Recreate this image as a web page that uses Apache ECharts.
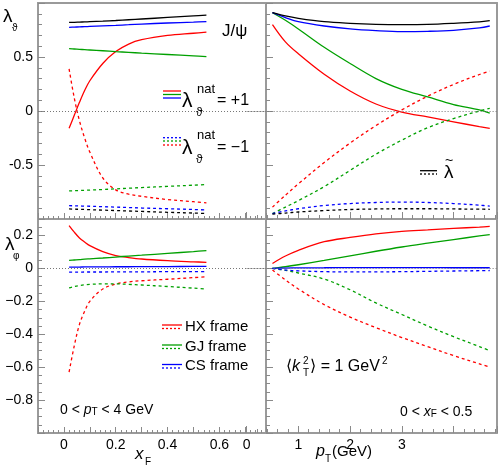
<!DOCTYPE html>
<html>
<head>
<meta charset="utf-8">
<script src="https://cdn.jsdelivr.net/npm/echarts@6/dist/echarts.min.js"></script>
<style>
  html, body { margin: 0; padding: 0; background: #fff; }
  #chart { width: 499px; height: 470px; }
</style>
</head>
<body>
<div id="chart"></div>
<script>
// sample points
const xF = [0.02, 0.04, 0.06, 0.08, 0.10, 0.15, 0.20, 0.25, 0.30, 0.40, 0.50, 0.55]
const pT = [0.5, 0.75, 1.0, 1.5, 2.0, 2.5, 3.0, 3.5, 4.0, 4.5, 4.7]

// lambda_theta vs xF (top left). "pos" = lambda_nat +1 (solid), "neg" = -1 (dashed)
const thXF_HX_pos = [-0.16, -0.04, 0.08, 0.19, 0.28, 0.44, 0.55, 0.62, 0.66, 0.70, 0.72, 0.73]
const thXF_HX_neg = [0.39, 0.12, -0.09, -0.25, -0.38, -0.62, -0.73, -0.77, -0.79, -0.82, -0.84, -0.85]
const thXF_GJ_pos = [0.577, 0.574, 0.571, 0.568, 0.565, 0.558, 0.550, 0.543, 0.536, 0.523, 0.510, 0.503]
const thXF_GJ_neg = [-0.74, -0.738, -0.736, -0.734, -0.732, -0.727, -0.721, -0.715, -0.709, -0.698, -0.687, -0.681]
const thXF_CS_pos = [0.775, 0.777, 0.779, 0.781, 0.783, 0.788, 0.793, 0.799, 0.805, 0.815, 0.823, 0.827]
const thXF_CS_neg = [-0.876, -0.878, -0.879, -0.881, -0.882, -0.886, -0.890, -0.894, -0.898, -0.905, -0.912, -0.916]
const thXF_tl_pos = [0.82, 0.821, 0.823, 0.825, 0.827, 0.832, 0.838, 0.845, 0.852, 0.866, 0.880, 0.887]
const thXF_tl_neg = [-0.907, -0.909, -0.910, -0.912, -0.914, -0.918, -0.922, -0.926, -0.930, -0.938, -0.945, -0.949]

// lambda_theta vs pT (top right)
const thPT_HX_pos = [0.80, 0.64, 0.53, 0.34, 0.185, 0.065, -0.01, -0.055, -0.10, -0.145, -0.16]
const thPT_HX_neg = [-0.89, -0.78, -0.675, -0.477, -0.297, -0.135, 0.01, 0.137, 0.246, 0.338, 0.37]
const thPT_GJ_pos = [0.91, 0.84, 0.76, 0.59, 0.44, 0.30, 0.20, 0.13, 0.06, 0.01, -0.02]
const thPT_GJ_neg = [-0.95, -0.89, -0.83, -0.70, -0.55, -0.40, -0.27, -0.155, -0.07, 0.0, 0.025]
const thPT_CS_pos = [0.91, 0.865, 0.827, 0.787, 0.76, 0.744, 0.735, 0.738, 0.747, 0.769, 0.787]
const thPT_CS_neg = [-0.95, -0.925, -0.905, -0.875, -0.857, -0.847, -0.843, -0.847, -0.857, -0.872, -0.88]
const thPT_tl_pos = [0.91, 0.88, 0.858, 0.827, 0.812, 0.803, 0.800, 0.802, 0.812, 0.826, 0.836]
const thPT_tl_neg = [-0.955, -0.945, -0.935, -0.922, -0.912, -0.907, -0.905, -0.905, -0.907, -0.909, -0.91]

// lambda_phi vs xF (bottom left)
const phXF_HX_pos = [0.26, 0.22, 0.185, 0.16, 0.138, 0.102, 0.078, 0.066, 0.057, 0.047, 0.040, 0.037]
const phXF_HX_neg = [-0.63, -0.47, -0.34, -0.26, -0.20, -0.125, -0.095, -0.082, -0.075, -0.066, -0.056, -0.051]
const phXF_GJ_pos = [0.049, 0.051, 0.053, 0.056, 0.058, 0.063, 0.069, 0.075, 0.080, 0.091, 0.102, 0.108]
const phXF_GJ_neg = [-0.118, -0.110, -0.104, -0.100, -0.097, -0.094, -0.094, -0.097, -0.101, -0.110, -0.120, -0.126]
const phXF_CS_pos = [0.008, 0.008, 0.008, 0.009, 0.009, 0.009, 0.010, 0.010, 0.011, 0.011, 0.012, 0.012]
const phXF_CS_neg = [-0.023, -0.023, -0.023, -0.022, -0.022, -0.022, -0.021, -0.021, -0.021, -0.020, -0.020, -0.020]

// lambda_phi vs pT (bottom right)
const phPT_HX_pos = [0.03, 0.075, 0.11, 0.162, 0.188, 0.21, 0.225, 0.234, 0.243, 0.251, 0.255]
const phPT_HX_neg = [-0.01, -0.07, -0.125, -0.22, -0.296, -0.36, -0.42, -0.475, -0.53, -0.58, -0.6]
const phPT_GJ_pos = [0.0, 0.01, 0.022, 0.048, 0.076, 0.104, 0.13, 0.153, 0.175, 0.197, 0.205]
const phPT_GJ_neg = [0.0, -0.012, -0.028, -0.065, -0.13, -0.21, -0.28, -0.35, -0.415, -0.475, -0.5]
const phPT_CS_pos = [0.0, 0.002, 0.003, 0.004, 0.005, 0.005, 0.005, 0.005, 0.004, 0.004, 0.004]
const phPT_CS_neg = [0.0, -0.01, -0.015, -0.02, -0.021, -0.021, -0.02, -0.018, -0.016, -0.014, -0.013]

const RED = "#ff0000"
const GREEN = "#00a000"
const BLUE = "#0000ff"
const BLACK = "#000000"
const FRAME = "#9a9a9a"
const TICK = "#8a8a8a"
const FF = '"Liberation Sans", "DejaVu Sans", sans-serif'

const chart = echarts.init(document.getElementById("chart"), null, { renderer: "canvas" })

// one curve
const curve = (xs, ys, xi, yi, color, dashed) => ({
  type: "line",
  xAxisIndex: xi,
  yAxisIndex: yi,
  data: xs.map((x, i) => [x, ys[i]]),
  smooth: 0.35,
  symbol: "none",
  silent: true,
  lineStyle: { color: color, width: 1.3, type: dashed ? [3, 3] : "solid" },
})

const zeroLine = {
  silent: true,
  symbol: "none",
  label: { show: false },
  lineStyle: { color: "#777", width: 1, type: [1, 2] },
  data: [{ yAxis: 0 }],
}

// tick formatters
const fmtXF = (v) => (Math.abs(v * 5 - Math.round(v * 5)) < 1e-6 && v > -0.01 ? String(Math.round(v * 10) / 10) : "")
const fmtPT = (v) => (Number.isInteger(v) && v <= 3 ? String(v) : "")
const fmtTop = (v) => (Math.abs(v) > 0.9 ? "" : String(v))
const fmtBot = (v) => {
  if (v < -0.9 || v > 0.25) return ""
  const s = String(Math.round(v * 10) / 10)
  return s.replace("-", "\u2212")
}

const tick = (len) => ({ show: true, inside: true, length: len, lineStyle: { color: TICK, width: 1 } })
const minor = (n, len) => ({ show: true, splitNumber: n, length: len, lineStyle: { color: TICK, width: 1 } })
const label = (fmt, show) => ({ show: show, formatter: fmt, color: "#000", fontSize: 14, fontFamily: FF, margin: 5 })
const line = (show) => ({ show: show, onZero: false, lineStyle: { color: FRAME, width: 2 } })

const xfAxis = (grid, showLabel) => ({
  type: "value", gridIndex: grid, min: -0.1, max: 0.78, interval: 0.1,
  axisLine: line(false), axisTick: tick(6), minorTick: minor(5, 3),
  axisLabel: label(fmtXF, showLabel), splitLine: { show: false },
})
const ptAxis = (grid, showLabel) => ({
  type: "value", gridIndex: grid, min: 0, max: 4.84, interval: 1,
  axisLine: line(true), axisTick: tick(7), minorTick: minor(5, 4),
  axisLabel: label(fmtPT, showLabel), splitLine: { show: false },
})

const option = {
  animation: false,
  backgroundColor: "#fff",
  grid: [
    { left: 38, top: 3, width: 228, height: 216, show: true, borderColor: FRAME, borderWidth: 2, backgroundColor: "transparent", outerBoundsMode: "none" },
    { left: 246.6, top: 3, width: 250.4, height: 216, show: false, outerBoundsMode: "none" },
    { left: 38, top: 219, width: 228, height: 214, show: true, borderColor: FRAME, borderWidth: 2, backgroundColor: "transparent", outerBoundsMode: "none" },
    { left: 246.6, top: 219, width: 250.4, height: 214, show: false, outerBoundsMode: "none" },
  ],
  xAxis: [
    xfAxis(0, false),
    ptAxis(1, false),
    xfAxis(2, true),
    ptAxis(3, true),
    // top edge of the right upper frame
    { type: "value", gridIndex: 1, position: "top", min: 0, max: 4.84, axisLine: line(true), axisTick: { show: false }, axisLabel: { show: false }, splitLine: { show: false } },
  ],
  yAxis: [
    { type: "value", gridIndex: 0, min: -1, max: 1, interval: 0.5, axisLine: line(false), axisTick: tick(7), minorTick: minor(5, 4), axisLabel: label(fmtTop, true), splitLine: { show: false } },
    { type: "value", gridIndex: 0, position: "right", min: -1, max: 1, interval: 0.5, axisLine: line(true), axisTick: Object.assign(tick(7), { inside: false }), minorTick: minor(5, 4), axisLabel: { show: false }, splitLine: { show: false } },
    { type: "value", gridIndex: 1, position: "right", min: -1, max: 1, axisLine: line(true), axisTick: { show: false }, axisLabel: { show: false }, splitLine: { show: false } },
    { type: "value", gridIndex: 2, min: -1, max: 0.3, interval: 0.2, axisLine: line(false), axisTick: tick(7), minorTick: minor(4, 4), axisLabel: label(fmtBot, true), splitLine: { show: false } },
    { type: "value", gridIndex: 2, position: "right", min: -1, max: 0.3, interval: 0.2, axisLine: line(true), axisTick: Object.assign(tick(7), { inside: false }), minorTick: minor(4, 4), axisLabel: { show: false }, splitLine: { show: false } },
    { type: "value", gridIndex: 3, position: "right", min: -1, max: 0.3, axisLine: line(true), axisTick: { show: false }, axisLabel: { show: false }, splitLine: { show: false } },
  ],
  series: [
    Object.assign(curve(xF, thXF_HX_pos, 0, 0, RED, false), { markLine: zeroLine }),
    curve(xF, thXF_HX_neg, 0, 0, RED, true),
    curve(xF, thXF_GJ_pos, 0, 0, GREEN, false),
    curve(xF, thXF_GJ_neg, 0, 0, GREEN, true),
    curve(xF, thXF_CS_pos, 0, 0, BLUE, false),
    curve(xF, thXF_CS_neg, 0, 0, BLUE, true),
    curve(xF, thXF_tl_pos, 0, 0, BLACK, false),
    curve(xF, thXF_tl_neg, 0, 0, BLACK, true),

    Object.assign(curve(pT, thPT_HX_pos, 1, 2, RED, false), { markLine: zeroLine }),
    curve(pT, thPT_HX_neg, 1, 2, RED, true),
    curve(pT, thPT_GJ_pos, 1, 2, GREEN, false),
    curve(pT, thPT_GJ_neg, 1, 2, GREEN, true),
    curve(pT, thPT_CS_pos, 1, 2, BLUE, false),
    curve(pT, thPT_CS_neg, 1, 2, BLUE, true),
    curve(pT, thPT_tl_pos, 1, 2, BLACK, false),
    curve(pT, thPT_tl_neg, 1, 2, BLACK, true),

    Object.assign(curve(xF, phXF_HX_pos, 2, 3, RED, false), { markLine: zeroLine }),
    curve(xF, phXF_HX_neg, 2, 3, RED, true),
    curve(xF, phXF_GJ_pos, 2, 3, GREEN, false),
    curve(xF, phXF_GJ_neg, 2, 3, GREEN, true),
    curve(xF, phXF_CS_pos, 2, 3, BLUE, false),
    curve(xF, phXF_CS_neg, 2, 3, BLUE, true),

    Object.assign(curve(pT, phPT_HX_pos, 3, 5, RED, false), { markLine: zeroLine }),
    curve(pT, phPT_HX_neg, 3, 5, RED, true),
    curve(pT, phPT_GJ_pos, 3, 5, GREEN, false),
    curve(pT, phPT_GJ_neg, 3, 5, GREEN, true),
    curve(pT, phPT_CS_pos, 3, 5, BLUE, false),
    curve(pT, phPT_CS_neg, 3, 5, BLUE, true),
  ],
}

// text and legend keys
const txt = (x, y, text, size, extra) => ({
  type: "text", x: x, y: y, silent: true, z: 100,
  style: Object.assign({ text: text, fontSize: size, fontFamily: FF, fill: "#000", align: "left", verticalAlign: "middle" }, extra || {}),
})
const key = (x1, x2, y, color, dashed) => ({
  type: "line", silent: true, z: 100,
  shape: { x1: x1, y1: y, x2: x2, y2: y },
  style: { stroke: color, lineWidth: 1.3, lineDash: dashed ? [2, 2] : null },
})
const sub = { fontSize: 10, fontFamily: FF, lineHeight: 10, verticalAlign: "bottom" }
const it = { fontSize: 14, fontFamily: FF, fontStyle: "italic", lineHeight: 14, verticalAlign: "middle" }
const rm = { fontSize: 14, fontFamily: FF, lineHeight: 14, verticalAlign: "middle" }

option.graphic = [
  // axis symbols
  txt(3, 17, "λ", 19),
  txt(12, 28, "ϑ", 10),
  txt(5, 245, "λ", 19),
  txt(13, 256, "φ", 10),
  txt(222, 31, "J/ψ", 17),

  // lambda_nat = +1 key
  key(163, 181, 91, RED, false),
  key(163, 181, 94.5, GREEN, false),
  key(163, 181, 98, BLUE, false),
  txt(182, 101, "λ", 21),
  txt(197, 89, "nat", 13),
  txt(196, 113, "ϑ", 12),
  txt(217, 101, "= +1", 16),

  // lambda_nat = -1 key
  key(163, 181, 137.7, BLUE, true),
  key(163, 181, 141, GREEN, true),
  key(163, 181, 145, RED, true),
  txt(182, 148, "λ", 21),
  txt(197, 135, "nat", 13),
  txt(196, 160, "ϑ", 12),
  txt(217, 148, "= \u22121", 16),

  // lambda tilde key
  key(420, 437, 170.7, BLACK, false),
  key(420, 437, 174, BLACK, true),
  txt(444, 173, "λ", 19),
  txt(445, 161, "~", 14),

  // frame keys
  key(162, 182, 325, RED, false),
  key(162, 182, 328.5, RED, true),
  txt(185, 327, "HX frame", 15),
  key(162, 182, 345, GREEN, false),
  key(162, 182, 348.5, GREEN, true),
  txt(185, 347, "GJ frame", 15),
  key(162, 182, 364.5, BLUE, false),
  key(162, 182, 368, BLUE, true),
  txt(185, 366, "CS frame", 15),

  // kinematic ranges
  txt(60, 410, "{rm|0 < }{it|p}{sub|T}{rm| < 4 GeV}", 14, { rich: { rm: rm, it: it, sub: sub }, lineHeight: 20 }),
  txt(400, 412, "{rm|0 < }{it|x}{sub|F}{rm| < 0.5}", 14, { rich: { rm: rm, it: it, sub: sub }, lineHeight: 20 }),

  // <kT^2> = 1 GeV^2
  txt(286, 367, "⟨", 16),
  txt(292, 367, "k", 16, { fontStyle: "italic" }),
  txt(303, 361, "2", 10),
  txt(303, 373, "T", 10),
  txt(310, 367, "⟩ = 1 GeV", 16),
  txt(382, 361, "2", 10),

  // axis titles
  txt(135, 454, "x", 17, { fontStyle: "italic" }),
  txt(145, 462, "F", 10),
  txt(316, 452, "p", 16, { fontStyle: "italic" }),
  txt(325, 459, "T", 10),
  txt(332, 452, "(GeV)", 15),
]

chart.setOption(option)
</script>
</body>
</html>
